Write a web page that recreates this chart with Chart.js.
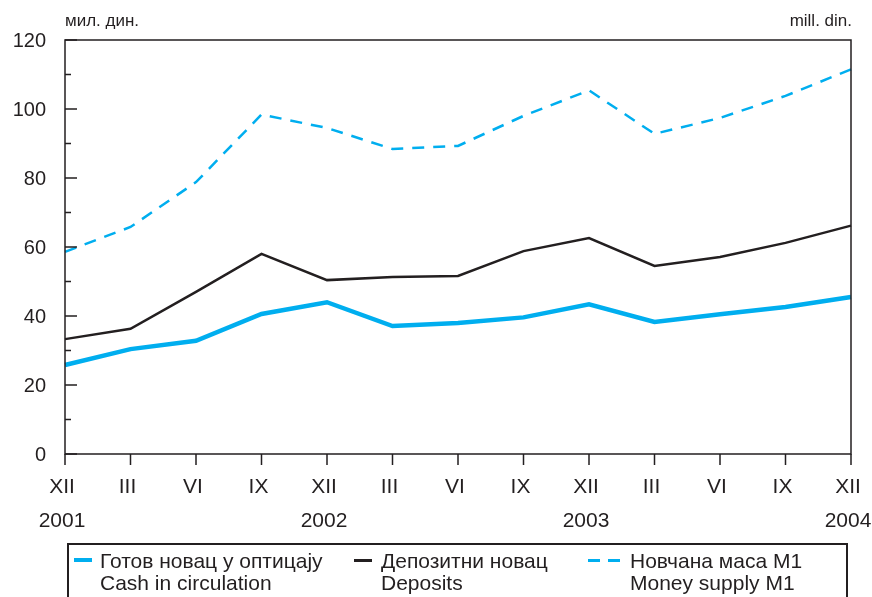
<!DOCTYPE html>
<html>
<head>
<meta charset="utf-8">
<script src="https://cdn.jsdelivr.net/npm/chart.js@4.4.0/dist/chart.umd.min.js"></script>
<style>
body { margin: 0; background: #fff; font-family: "Liberation Sans", Arial, sans-serif; }
#wrap { position: relative; width: 872px; height: 597px; overflow: hidden; }
#legendBox { position: absolute; left: 67px; top: 543px; width: 781px; height: 80px; border: 2px solid #231f20; box-sizing: border-box; }
.txt { position: absolute; top: 550px; font-size: 21px; line-height: 22px; color: #231f20; white-space: pre; }
.smp { position: absolute; }
</style>
</head>
<body>
<div id="wrap">
  <canvas id="chart" width="872" height="597"></canvas>
  <div id="legendBox"></div>
  <div class="smp" style="left:74px;top:558px;width:18px;height:4px;background:#00aeef"></div>
  <div class="txt" style="left:100px">Готов новац у оптицају
Cash in circulation</div>
  <div class="smp" style="left:354px;top:559px;width:18px;height:3px;background:#231f20"></div>
  <div class="txt" style="left:381px">Депозитни новац
Deposits</div>
  <div class="smp" style="left:588px;top:559px;width:12px;height:3px;background:#00aeef"></div>
  <div class="smp" style="left:608px;top:559px;width:12px;height:3px;background:#00aeef"></div>
  <div class="txt" style="left:630px">Новчана маса М1
Money supply M1</div>
</div>
<script>
const monthLabels = ['XII','III','VI','IX','XII','III','VI','IX','XII','III','VI','IX','XII'];
const yearLabels = ['2001','','','','2002','','','','2003','','','','2004'];
const cashData = [25.8, 30.4, 32.8, 40.6, 44.0, 37.1, 38.0, 39.6, 43.4, 38.3, 40.5, 42.6, 45.5];
const depositData = [33.3, 36.3, 47.0, 58.0, 50.4, 51.3, 51.6, 58.8, 62.6, 54.5, 57.1, 61.2, 66.2];
const m1Data = [58.6, 65.8, 78.8, 98.4, 94.5, 88.4, 89.3, 98.0, 105.4, 92.8, 97.4, 103.8, 111.5];
const yTicks = [0, 20, 40, 60, 80, 100, 120];
const yMinorTicks = [10, 30, 50, 70, 90, 110];

const ink = '#231f20';
const cyan = '#00aeef';

// draws the frame, ticks and labels off the chart's own scales
const axesPlugin = {
    id: 'axesPlugin',
    afterDatasetsDraw(chart) {
        const ctx = chart.ctx;
        const a = chart.chartArea;
        const x = chart.scales.x;
        const y = chart.scales.y;
        ctx.save();
        ctx.strokeStyle = ink;
        ctx.lineWidth = 1.5;
        ctx.beginPath();
        ctx.rect(a.left, a.top, a.right - a.left, a.bottom - a.top);
        ctx.stroke();

        ctx.lineWidth = 1.5;
        ctx.beginPath();
        yTicks.forEach(v => {
            const py = y.getPixelForValue(v);
            ctx.moveTo(a.left, py);
            ctx.lineTo(a.left + 12, py);
        });
        yMinorTicks.forEach(v => {
            const py = y.getPixelForValue(v);
            ctx.moveTo(a.left, py);
            ctx.lineTo(a.left + 6, py);
        });
        monthLabels.forEach((m, i) => {
            const px = x.getPixelForValue(i);
            ctx.moveTo(px, a.bottom);
            ctx.lineTo(px, a.bottom + 11);
        });
        ctx.stroke();

        ctx.fillStyle = ink;
        ctx.font = '20px "Liberation Sans", Arial, sans-serif';
        ctx.textAlign = 'right';
        ctx.textBaseline = 'middle';
        yTicks.forEach(v => {
            ctx.fillText(String(v), a.left - 19, y.getPixelForValue(v) + 1);
        });

        ctx.font = '21px "Liberation Sans", Arial, sans-serif';
        ctx.textAlign = 'center';
        ctx.textBaseline = 'alphabetic';
        monthLabels.forEach((m, i) => {
            const px = x.getPixelForValue(i);
            ctx.fillText(m, px - 3, 493);
            if (yearLabels[i]) {
                ctx.fillText(yearLabels[i], px - 3, 527);
            }
        });

        ctx.font = '17px "Liberation Sans", Arial, sans-serif';
        ctx.textAlign = 'left';
        ctx.fillText('мил. дин.', a.left, 26);
        ctx.textAlign = 'right';
        ctx.fillText('mill. din.', a.right + 1, 26);
        ctx.restore();
    }
};

const ctx = document.getElementById('chart').getContext('2d');
const moneyChart = new Chart(ctx, {
    type: 'line',
    data: {
        labels: monthLabels,
        datasets: [
            {
                label: 'Новчана маса М1',
                data: m1Data,
                borderColor: cyan,
                borderWidth: 2.5,
                borderDash: [12, 9],
                pointRadius: 0,
                tension: 0
            },
            {
                label: 'Депозитни новац',
                data: depositData,
                borderColor: ink,
                borderWidth: 2.5,
                pointRadius: 0,
                tension: 0
            },
            {
                label: 'Готов новац у оптицају',
                data: cashData,
                borderColor: cyan,
                borderWidth: 4.5,
                pointRadius: 0,
                tension: 0
            }
        ]
    },
    options: {
        responsive: false,
        animation: false,
        layout: { padding: { left: 65, right: 21, top: 40, bottom: 143 } },
        scales: {
            x: { display: false, offset: false },
            y: { display: false, min: 0, max: 120 }
        },
        plugins: {
            legend: { display: false },
            tooltip: { enabled: false }
        }
    },
    plugins: [axesPlugin]
});
</script>
</body>
</html>
